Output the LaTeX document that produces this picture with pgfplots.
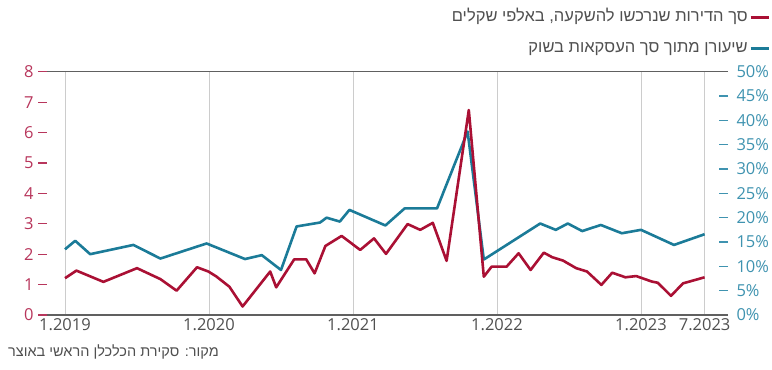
\documentclass[border=0pt]{standalone}
\usepackage{fontspec}
\setmainfont{Open Sans}
\newfontfamily\hebfont[Script=Hebrew]{Liberation Sans}
\TeXXeTstate=1
\usepackage{pgfplots}
\usepackage{pgfplotstable}
\pgfplotsset{compat=1.18}
\definecolor{redl}{HTML}{AA1034}
\definecolor{teall}{HTML}{1B7B98}
\definecolor{redlab}{HTML}{B8365C}
\definecolor{teallab}{HTML}{3F93B0}
\definecolor{txt}{HTML}{505050}

% x = months since 1.2019 ; value in thousands of apartments
\pgfplotstableread{
m v
0 1.21
0.95 1.46
3.2 1.09
6.0 1.54
7.95 1.18
9.3 0.80
11.0 1.57
11.95 1.43
12.6 1.27
13.7 0.93
14.8 0.28
17.1 1.43
17.6 0.91
19.1 1.83
20.1 1.83
20.8 1.37
21.7 2.27
23.05 2.60
24.6 2.14
25.75 2.52
26.75 2.01
28.55 2.99
29.6 2.80
30.65 3.03
31.8 1.78
33.65 6.74
34.9 1.26
35.55 1.59
36.8 1.59
37.8 2.03
38.8 1.48
39.9 2.05
40.6 1.90
41.5 1.79
42.6 1.54
43.5 1.43
44.7 0.99
45.6 1.39
46.7 1.24
47.6 1.28
48.9 1.10
49.4 1.06
50.5 0.63
51.5 1.04
53.3 1.24
}\redtable

% share of all transactions, percent
\pgfplotstableread{
m p
0 13.5
0.85 15.25
2.1 12.5
5.7 14.4
7.95 11.6
11.8 14.7
15.0 11.5
16.4 12.3
18.0 9.25
19.3 18.2
21.25 19.0
21.8 20.0
22.9 19.2
23.7 21.6
26.7 18.4
28.3 21.9
31.0 21.9
33.55 37.7
34.9 11.4
39.6 18.8
40.9 17.5
41.9 18.8
43.1 17.25
44.65 18.5
46.4 16.8
48.0 17.5
50.75 14.4
53.3 16.6
}\tealtable

\begin{document}
\begin{tikzpicture}
\path[use as bounding box] (-38bp,-55bp) rectangle (734bp,315bp);
% right axis (percent) with frame, grid and x labels
\begin{axis}[
  at={(0,0)}, anchor=south west, scale only axis,
  width=690bp, height=243.3bp,
  xmin=-2.25, xmax=55.25, ymin=0, ymax=50,
  separate axis lines,
  y axis line style={draw=none},
  x axis line style={gray!75!black, line width=1.3bp},
  xtick={0,12,24,36,48,53.3},
  xticklabels={1.2019,1.2020,1.2021,1.2022,1.2023,7.2023},
  xmajorgrids, grid style={gray!40, line width=1bp},
  major x tick style={draw=none},
  ytick={0,5,...,50}, ytick pos=right,
  tick align=inside, major tick length=9bp,
  major y tick style={teallab, line width=1.2bp},
  /pgf/number format/assume math mode=true,
  ticklabel style={font=\fontsize{16.5bp}{18bp}\selectfont},
  xticklabel style={text=txt},
  yticklabel style={text=teallab, xshift=5bp},
  yticklabel={\pgfmathprintnumber{\tick}\%},
]
\addplot[teall, line width=2.6bp, line join=round] table[x=m, y=p] {\tealtable};
\end{axis}
% left axis (thousands) red series and legend
\begin{axis}[
  at={(0,0)}, anchor=south west, scale only axis,
  width=690bp, height=243.3bp,
  xmin=-2.25, xmax=55.25, ymin=0, ymax=8,
  axis x line=none, axis y line*=left,
  y axis line style={draw=none},
  ytick={0,...,8},
  tick align=inside, major tick length=9bp,
  major y tick style={redlab, line width=1.2bp},
  /pgf/number format/assume math mode=true,
  yticklabel style={text=redlab, font=\fontsize{16.5bp}{18bp}\selectfont, xshift=-1bp},
  legend plot pos=right,
  legend image code/.code={\draw[#1, line width=2.6bp] (0bp,0bp) -- (18bp,0bp);},
  legend style={at={(1.0609,1)}, anchor=south east, yshift=13.7bp,
    draw=none, fill=none, inner sep=0pt,
    font=\fontsize{16.5bp}{18bp}\selectfont, text=txt,
    row sep=12bp,
    nodes={inner sep=1.5bp, text height=12bp, text depth=4bp}},
  legend cell align=right,
]
\addplot[redl, line width=2.6bp, line join=round] table[x=m, y=v] {\redtable};
\addlegendentry{\hebfont\beginR סך הדירות שנרכשו להשקעה, באלפי שקלים\endR}
\addlegendimage{teall}
\addlegendentry{\hebfont\beginR שיעורן מתוך סך העסקאות בשוק\endR}
\end{axis}
\node[anchor=west, inner sep=0pt, text=txt, font=\fontsize{14.5bp}{16bp}\selectfont] at (-30bp,-37bp) {\hebfont\beginR מקור: סקירת הכלכלן הראשי באוצר\endR};
\end{tikzpicture}
\end{document}
